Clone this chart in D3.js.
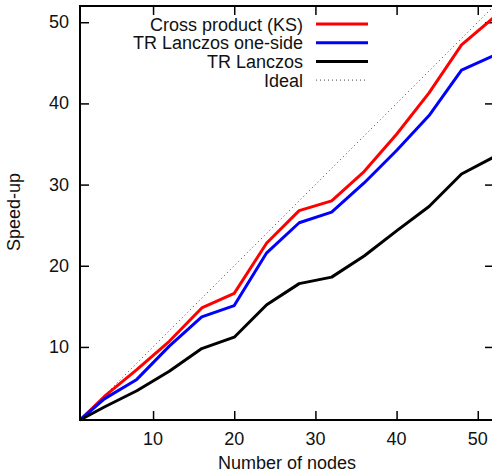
<!DOCTYPE html>
<html>
<head>
<meta charset="utf-8">
<script src="https://cdn.jsdelivr.net/npm/d3@7"></script>
<style>
  body { margin: 0; background: #fff; }
  text { font-family: "Liberation Sans", Arial, sans-serif; font-size: 18px; fill: #111; }
</style>
</head>
<body>
<div class="chart"></div>
<script>
// number of nodes
const nodes = [1, 4, 8, 12, 16, 20, 24, 28, 32, 36, 40, 44, 48, 52];
const crossProduct = [1, 3.9, 7.2, 10.7, 14.8, 16.6, 22.8, 26.8, 28.0, 31.6, 36.2, 41.3, 47.2, 50.6];
const trOneSide = [1, 3.6, 6.0, 10.1, 13.7, 15.1, 21.6, 25.3, 26.6, 30.2, 34.2, 38.5, 44.1, 45.9];
const trLanczos = [1, 2.6, 4.6, 7.0, 9.8, 11.2, 15.2, 17.8, 18.6, 21.2, 24.3, 27.3, 31.3, 33.4];
const idealX = [1, 52];
const yTicks = [10, 20, 30, 40, 50];
const xTicks = [10, 20, 30, 40, 50];

const series = [
  {name: 'Cross product (KS)', values: crossProduct, color: '#ff0000'},
  {name: 'TR Lanczos one-side', values: trOneSide, color: '#0000ff'},
  {name: 'TR Lanczos', values: trLanczos, color: '#000000'}
];

const W = 492, H = 474;
const margin = ({top: 6, right: -2, bottom: 54, left: 80});

const svg = d3.select('.chart')
  .append('svg')
  .attr('width', W)
  .attr('height', H);

const xScale = d3.scaleLinear().domain([1, 52]).range([margin.left, W - margin.right]);
const yScale = d3.scaleLinear().domain([1, 52]).range([H - margin.bottom, margin.top]);

// inward ticks on all four sides
const tickLen = 9;
svg.append('g')
  .attr('transform', `translate(${margin.left},0)`)
  .call(d3.axisRight(yScale).tickValues(yTicks).tickSize(tickLen).tickFormat(''))
  .call(g => g.select('.domain').remove());
svg.append('g')
  .attr('transform', `translate(${W - margin.right},0)`)
  .call(d3.axisLeft(yScale).tickValues(yTicks).tickSize(tickLen).tickFormat(''))
  .call(g => g.select('.domain').remove());
svg.append('g')
  .attr('transform', `translate(0,${H - margin.bottom})`)
  .call(d3.axisTop(xScale).tickValues(xTicks).tickSize(tickLen).tickFormat(''))
  .call(g => g.select('.domain').remove());
svg.append('g')
  .attr('transform', `translate(0,${margin.top})`)
  .call(d3.axisBottom(xScale).tickValues(xTicks).tickSize(tickLen).tickFormat(''))
  .call(g => g.select('.domain').remove());
svg.selectAll('.tick line').attr('stroke', '#000').attr('stroke-width', 1.5);

// tick labels
svg.selectAll('.ylab')
  .data(yTicks)
  .enter()
  .append('text')
  .attr('x', 69)
  .attr('y', d => yScale(d) + 6)
  .attr('text-anchor', 'end')
  .text(d => d);

svg.selectAll('.xlab')
  .data(xTicks)
  .enter()
  .append('text')
  .attr('x', d => xScale(d))
  .attr('y', 445)
  .attr('text-anchor', 'middle')
  .text(d => d);

// ideal line
const line = d3.line()
  .x(d => xScale(d[0]))
  .y(d => yScale(d[1]));

svg.append('path')
  .attr('d', line(idealX.map(d => [d, d])))
  .attr('fill', 'none')
  .attr('stroke', '#444')
  .attr('stroke-width', 1)
  .attr('stroke-dasharray', '1,3');

// series lines
series.forEach(s => {
  svg.append('path')
    .attr('d', line(nodes.map((n, i) => [n, s.values[i]])))
    .attr('fill', 'none')
    .attr('stroke', s.color)
    .attr('stroke-width', 3)
    .attr('stroke-linejoin', 'round');
});

// frame
svg.append('rect')
  .attr('x', margin.left)
  .attr('y', margin.top)
  .attr('width', (W - margin.right) - margin.left)
  .attr('height', (H - margin.bottom) - margin.top)
  .attr('fill', 'none')
  .attr('stroke', '#000')
  .attr('stroke-width', 2);

// legend
const legend = series.map(s => ({name: s.name, color: s.color, dash: null, w: 3}))
  .concat([{name: 'Ideal', color: '#444', dash: '1,3', w: 1}]);

const lg = svg.append('g');
legend.forEach((d, i) => {
  const y = 24 + i * 18.7;
  lg.append('text')
    .attr('x', 303)
    .attr('y', y + 6.5)
    .attr('text-anchor', 'end')
    .text(d.name);
  lg.append('line')
    .attr('x1', 316)
    .attr('x2', 368)
    .attr('y1', y)
    .attr('y2', y)
    .attr('stroke', d.color)
    .attr('stroke-width', d.w)
    .attr('stroke-dasharray', d.dash);
});

// axis titles
svg.append('text')
  .attr('x', (margin.left + 494) / 2)
  .attr('y', 469)
  .attr('text-anchor', 'middle')
  .text('Number of nodes');

svg.append('text')
  .attr('transform', 'translate(20,212) rotate(-90)')
  .attr('text-anchor', 'middle')
  .text('Speed-up');
</script>
</body>
</html>
